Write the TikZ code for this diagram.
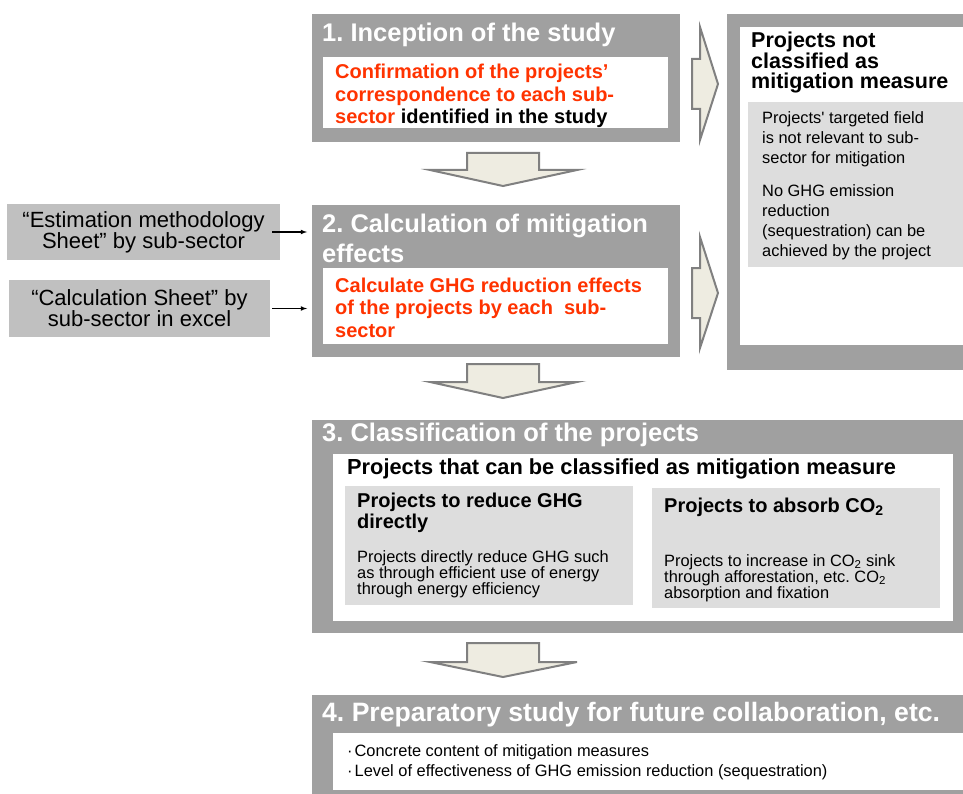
\documentclass[tikz,border=0pt]{standalone}
\usepackage{fontspec}
\setmainfont{Liberation Sans}
\usepackage{tikz}
\usetikzlibrary{arrows,calc,positioning}
\definecolor{boxgray}{RGB}{160,160,160}
\definecolor{sheetgray}{RGB}{192,192,192}
\definecolor{panelgray}{RGB}{221,221,221}
\definecolor{red3}{RGB}{255,51,0}
\definecolor{arrowfill}{RGB}{238,236,225}
\definecolor{arrowline}{RGB}{128,128,128}
\newcommand{\setfs}[2]{\fontsize{#1}{#2}\selectfont}
\frenchspacing

\begin{document}
\begin{tikzpicture}[x=1pt,y=-1pt,
  area/.style={anchor=north west, inner sep=0pt, outer sep=0pt},
  outerbox/.style={area, fill=boxgray},
  whitebox/.style={area, fill=white},
  panel/.style={area, fill=panelgray},
  sheet/.style={area, fill=sheetgray, align=center, font=\setfs{22}{21}},
  title/.style={anchor=base west, inner sep=0pt, text=white, align=left, font=\bfseries\setfs{25.5}{30}},
  redtxt/.style={anchor=base west, inner sep=0pt, text=red3, align=left, font=\bfseries\setfs{20}{22.8}},
  head/.style={anchor=base west, inner sep=0pt, align=left, font=\bfseries\setfs{20}{21}},
  body/.style={anchor=base west, inner sep=0pt, align=left, font=\setfs{16.4}{16}},
  blockarrow/.style={fill=arrowfill, draw=arrowline, line width=2pt}]
  \fill[white] (0,0) rectangle (963,794);
  \useasboundingbox (0,0) rectangle (963,794);
  % multi-line text nodes sit on the baseline of their last line

  % step 1
  \node[outerbox, minimum width=368pt, minimum height=128pt] (step1) at (312,14) {};
  \node[whitebox, minimum width=345pt, minimum height=71pt] (inner1) at (323,57) {};
  \node[title] (t1) at (322,42) {1. Inception of the study};
  \node[redtxt] (r1) at (335,124) {Confirmation of the projects’\\correspondence to each sub-\\sector \textcolor{black}{identified in the study}};

  % step 2
  \node[outerbox, minimum width=368pt, minimum height=152pt] (step2) at (312,205) {};
  \node[whitebox, minimum width=345pt, minimum height=76pt] (inner2) at (323,268) {};
  \node[title] (t2) at (322,262) {2. Calculation of mitigation\\effects};
  \node[redtxt] (r2) at (335,337.6) {Calculate GHG reduction effects\\of the projects by each\ \ sub-\\sector};

  % input sheets
  \node[sheet, minimum width=273pt, minimum height=56pt] (est) at (7,204) {“Estimation methodology\\Sheet” by sub-sector};
  \node[sheet, minimum width=261pt, minimum height=57pt] (calc) at (9,280) {“Calculation Sheet” by\\sub-sector in excel};
  \draw[-latex, line width=1.1pt] ([xshift=-8pt]est.east) -- ([xshift=-5pt]est.east -| step2.west);
  \draw[-latex, line width=1.1pt] ([xshift=2pt]calc.east) -- ([xshift=-5pt]calc.east -| step2.west);

  % not classified
  \node[outerbox, minimum width=236pt, minimum height=356pt] (notmit) at (727,14) {};
  \node[whitebox, minimum width=223pt, minimum height=318pt] (notinner) at (740,27) {};
  \node[panel, minimum width=215pt, minimum height=165pt] (notpanel) at (748,102) {};
  \node[head, font=\bfseries\setfs{21.5}{20.5}] (nt) at (751,89) {Projects not\\classified as\\mitigation measure};
  \node[body, font=\setfs{16.4}{20}] (nb) at (762,257) {Projects\textquotesingle{} targeted field\\is not relevant to sub-\\sector for mitigation\\[13pt]No GHG emission\\reduction\\(sequestration) can be\\achieved by the project};

  % step 3
  \node[outerbox, minimum width=651pt, minimum height=213pt] (step3) at (312,420) {};
  \node[whitebox, minimum width=620pt, minimum height=167pt] (inner3) at (333,454) {};
  \node[panel, minimum width=288pt, minimum height=119pt] (reduce) at (345,486) {};
  \node[panel, minimum width=288pt, minimum height=120pt] (absorb) at (652,488) {};
  \node[title] (t3) at (322,441) {3. Classification of the projects};
  \node[head, font=\bfseries\setfs{21.8}{22}] (h3) at (347,474) {Projects that can be classified as mitigation measure};
  \node[head] (ha) at (357,528) {Projects to reduce GHG\\directly};
  \node[body] (ba) at (357,594) {Projects directly reduce GHG such\\as through efficient use of energy\\through energy efficiency};
  \node[head] (hb) at (664,512) {Projects to absorb CO\textsubscript{2}};
  \node[body] (bb) at (664,598) {Projects to increase in CO\textsubscript{2} sink\\through afforestation, etc. CO\textsubscript{2}\\absorption and fixation};

  % step 4
  \node[outerbox, minimum width=651pt, minimum height=99pt] (step4) at (312,695) {};
  \node[whitebox, minimum width=630pt, minimum height=57pt] (inner4) at (333,733) {};
  \node[title, font=\bfseries\setfs{26.6}{30}] (t4) at (322,721) {4. Preparatory study for future collaboration, etc.};
  \node[body, font=\setfs{16.4}{20}] (b4) at (347,776) {·\hspace{2pt}Concrete content of mitigation measures\\·\hspace{2pt}Level of effectiveness of GHG emission reduction (sequestration)};

  % block arrows
  \draw[blockarrow] (467,153) -- (539,153) -- (539,170) -- (577,170) -- (503,186) -- (430,170) -- (467,170) -- cycle;
  \draw[blockarrow] (467,364) -- (539,364) -- (539,382) -- (577,382) -- (503,398) -- (430,382) -- (467,382) -- cycle;
  \draw[blockarrow] (467,643) -- (539,643) -- (539,662) -- (577,662) -- (503,677) -- (430,662) -- (467,662) -- cycle;
  \draw[blockarrow] (692,59) -- (700,59) -- (700,27) -- (718,84) -- (700,140) -- (700,109) -- (692,109) -- cycle;
  \draw[blockarrow] (692,268) -- (700,268) -- (700,237) -- (718,293) -- (700,348) -- (700,318) -- (692,318) -- cycle;
\end{tikzpicture}
\end{document}
